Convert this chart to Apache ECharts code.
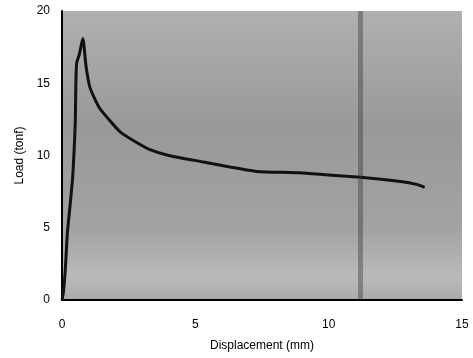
<!DOCTYPE html>
<html>
<head>
<meta charset="utf-8">
<script src="https://cdn.jsdelivr.net/npm/echarts@6/dist/echarts.min.js"></script>
<style>html,body{margin:0;padding:0;background:#fff}#c{width:473px;height:358px}</style>
</head>
<body>
<div id="c"></div>
<script>
const displacement = [0, 0.05, 0.12, 0.2, 0.3, 0.4, 0.47, 0.5, 0.52, 0.55, 0.65, 0.78, 0.9, 1.05, 1.4, 1.8, 2.2, 2.8, 3.3, 4.0, 5.3, 6.3, 7.3, 8.9, 10.0, 11.2, 12.7, 13.3, 13.6];
const load =         [0, 0.5, 2.0, 4.6, 6.5, 8.5, 11.0, 12.5, 15.0, 16.4, 17.0, 18.1, 16.2, 14.7, 13.3, 12.4, 11.6, 10.9, 10.4, 10.0, 9.55, 9.2, 8.9, 8.8, 8.65, 8.5, 8.2, 8.0, 7.8];
const xTicks = [0, 5, 10, 15];
const yTicks = [0, 5, 10, 15, 20];

const chart = echarts.init(document.getElementById('c'), null, {renderer: 'canvas'});
const font = 'Liberation Sans, Arial, sans-serif';
chart.setOption({
  animation: false,
  grid: {
    left: 62, right: 11, top: 11, bottom: 58,
    show: true,
    borderWidth: 0,
    backgroundColor: {
      type: 'linear', x: 0, y: 0, x2: 0, y2: 1,
      colorStops: [
        {offset: 0, color: '#b0b0b0'},
        {offset: 0.4, color: '#999999'},
        {offset: 0.75, color: '#a2a2a2'},
        {offset: 0.92, color: '#bababa'},
        {offset: 1, color: '#aaaaaa'}
      ]
    }
  },
  xAxis: {
    type: 'value', min: xTicks[0], max: xTicks[xTicks.length - 1], interval: 5,
    name: 'Displacement (mm)', nameLocation: 'middle', nameGap: 40,
    nameTextStyle: {fontFamily: font, fontSize: 12, color: '#000'},
    axisLine: {lineStyle: {color: '#000', width: 2}},
    axisTick: {show: false},
    splitLine: {show: false},
    axisLabel: {fontFamily: font, fontSize: 12, color: '#000', margin: 19}
  },
  yAxis: {
    type: 'value', min: yTicks[0], max: yTicks[yTicks.length - 1], interval: 5,
    name: 'Load (tonf)', nameLocation: 'middle', nameGap: 36,
    nameTextStyle: {fontFamily: font, fontSize: 12, color: '#000'},
    axisLine: {show: true, lineStyle: {color: '#000', width: 2}},
    axisTick: {show: false},
    splitLine: {show: false},
    axisLabel: {fontFamily: font, fontSize: 12, color: '#000', margin: 12}
  },
  series: [{
    type: 'line',
    data: displacement.map((x, i) => [x, load[i]]),
    symbol: 'none',
    smooth: 0.2,
    lineStyle: {color: '#111', width: 3},
    markLine: {
      silent: true, symbol: 'none', label: {show: false},
      lineStyle: {color: '#333333', width: 5, type: 'solid', opacity: 0.4},
      data: [{xAxis: 11.2}]
    }
  }]
});
</script>
</body>
</html>
